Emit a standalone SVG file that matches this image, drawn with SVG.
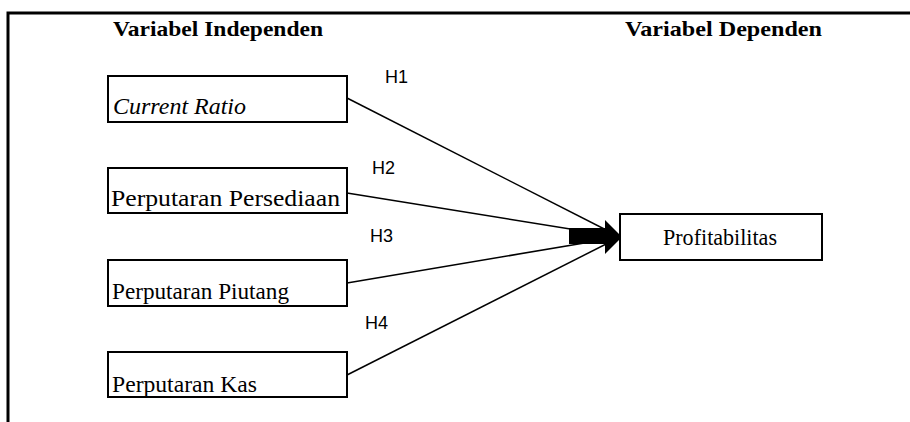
<svg xmlns="http://www.w3.org/2000/svg" width="910" height="422" viewBox="0 0 910 422">
<style>
.box{fill:#fff;stroke:#000;stroke-width:2}
.t{font-family:"Liberation Serif","Times New Roman",serif;font-size:23px;fill:#000}
.hd{font-family:"Liberation Serif","Times New Roman",serif;font-size:22px;font-weight:bold;fill:#000}
.h{font-family:"Liberation Sans",Arial,sans-serif;font-size:18px;fill:#000}
.c{stroke:#000;stroke-width:1.5;fill:none}
</style>
<rect width="910" height="422" fill="#fff"/>
<g id="frame">
<polyline points="8,422 8,13 910,13" fill="none" stroke="#000" stroke-width="3"/>
</g>
<text class="hd" x="113" y="36" textLength="210" lengthAdjust="spacingAndGlyphs">Variabel Independen</text>
<text class="hd" x="625" y="36" textLength="197" lengthAdjust="spacingAndGlyphs">Variabel Dependen</text>
<g id="connectors">
<line class="c" x1="347" y1="98" x2="620" y2="237"/>
<line class="c" x1="347" y1="193" x2="620" y2="237"/>
<line class="c" x1="347" y1="283" x2="620" y2="237"/>
<line class="c" x1="347" y1="375" x2="620" y2="237"/>
<rect x="569" y="228" width="37" height="16" fill="#000"/>
<polygon points="605,220 622,237 605,254" fill="#000"/>
<text class="h" x="385" y="83">H1</text>
<text class="h" x="372" y="174">H2</text>
<text class="h" x="370" y="242">H3</text>
<text class="h" x="365" y="329">H4</text>
</g>
<g id="node-cr">
<rect class="box" x="108" y="76" width="239" height="46"/>
<text class="t" x="113" y="114" font-style="italic" textLength="133" lengthAdjust="spacingAndGlyphs">Current Ratio</text>
</g>
<g id="node-ps">
<rect class="box" x="108" y="168" width="239" height="45"/>
<text class="t" x="111" y="206" textLength="229" lengthAdjust="spacingAndGlyphs">Perputaran Persediaan</text>
</g>
<g id="node-pp">
<rect class="box" x="108" y="260" width="239" height="46"/>
<text class="t" x="112" y="299" textLength="177" lengthAdjust="spacingAndGlyphs">Perputaran Piutang</text>
</g>
<g id="node-pk">
<rect class="box" x="108" y="352" width="239" height="45"/>
<text class="t" x="112" y="392" textLength="145" lengthAdjust="spacingAndGlyphs">Perputaran Kas</text>
</g>
<g id="node-prof">
<rect class="box" x="620" y="214" width="202" height="46"/>
<text class="t" x="663" y="245" font-size="22" textLength="114" lengthAdjust="spacingAndGlyphs">Profitabilitas</text>
</g>
</svg>
